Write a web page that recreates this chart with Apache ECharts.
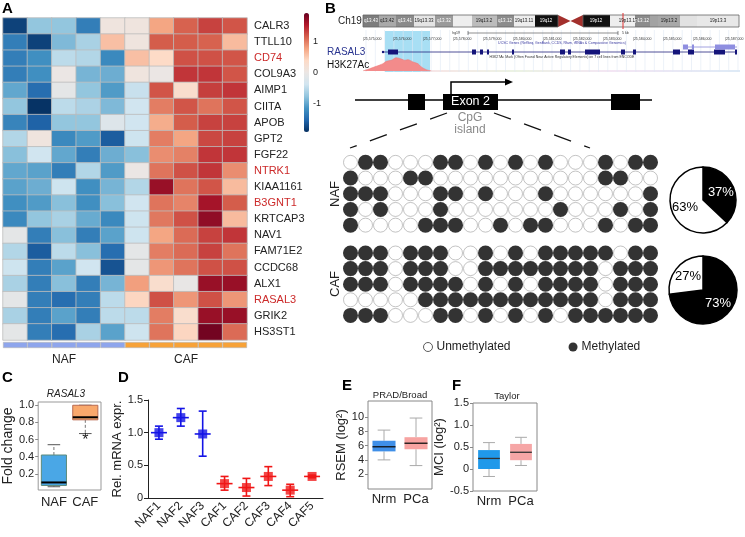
<!DOCTYPE html>
<html><head><meta charset="utf-8">
<script src="https://cdn.jsdelivr.net/npm/echarts@6.0.0/dist/echarts.min.js"></script>
<style>html,body{margin:0;padding:0;background:#fff;}#chart{width:745px;height:537px;}</style>
</head><body><div id="chart"></div>
<script>
// ================= DATA =================
// Panel A
const genes = ['CALR3','TTLL10','CD74','COL9A3','AIMP1','CIITA','APOB','GPT2','FGF22','NTRK1','KIAA1161','B3GNT1','KRTCAP3','NAV1','FAM71E2','CCDC68','ALX1','RASAL3','GRIK2','HS3ST1'];
const redGenes = ['CD74','NTRK1','B3GNT1','RASAL3'];
const samples = ['NAF-1','NAF-2','NAF-3','NAF-4','NAF-5','CAF-1','CAF-2','CAF-3','CAF-4','CAF-5'];
const sampleGroup = ['NAF','NAF','NAF','NAF','NAF','CAF','CAF','CAF','CAF','CAF'];
const groupLabels = ['NAF','CAF'];
const zScores = [
  [-1.79,-0.76,-0.76,-1.33,0.08,0.08,0.76,1.14,1.31,1.21],
  [-1.33,-1.79,-0.86,-0.63,0.58,0.08,1.17,1.17,1.14,0.61],
  [-1.33,-1.19,-0.51,-0.57,-1.24,0.58,0.38,1.23,1.23,1.21],
  [-1.33,-1.19,0.00,-0.90,-0.95,0.08,0.00,1.38,1.38,1.21],
  [-1.00,-1.47,-0.10,-0.76,-1.09,-0.44,1.21,0.30,1.33,1.38],
  [-0.76,-1.90,-0.51,-0.61,-0.86,-0.38,0.99,1.21,1.04,1.21],
  [-1.28,-1.56,-0.76,-0.76,-0.20,-0.38,0.71,1.17,1.31,1.31],
  [-0.57,0.08,-1.24,-1.09,-1.60,-0.40,0.99,0.76,1.28,1.31],
  [-0.81,-0.38,-1.00,-1.33,-0.95,-0.81,0.90,0.97,1.38,1.38],
  [-1.00,-1.04,-1.33,-0.57,-1.09,0.00,1.04,1.23,1.38,0.90],
  [-1.04,-0.95,-0.40,-1.19,-0.90,-0.57,1.67,1.04,1.21,0.61],
  [-1.19,-1.09,-0.81,-1.19,-0.81,-0.38,1.04,0.95,1.60,1.17],
  [-1.24,-0.76,-0.63,-0.97,-1.24,-0.40,1.02,1.23,1.71,0.61],
  [-0.10,-1.33,-0.81,-1.33,-1.04,-0.40,0.76,1.09,1.31,1.38],
  [-0.57,-1.60,-0.51,-0.81,-1.47,-0.10,0.99,1.09,1.31,1.04],
  [-0.40,-1.33,-1.04,-0.38,-1.67,-0.10,0.85,1.04,1.23,1.23],
  [-0.63,-1.33,-0.81,-1.33,-0.90,0.80,0.30,-0.04,1.67,1.67],
  [-0.10,-1.33,-1.47,-1.33,-0.51,0.42,1.23,0.85,1.23,0.85],
  [-0.63,-1.33,-1.04,-1.33,-0.51,-0.51,0.99,0.30,1.67,1.67],
  [-0.10,-1.33,-1.47,-0.63,-1.04,-0.40,1.04,0.42,1.86,1.09]
];
const colorbarTicks = [-1, 0, 1];

// Panel B
const nafMethylation = [
  [0,1,1,0,0,0,1,1,0,1,0,1,0,1,0,0,0,1,0,1,1],
  [1,0,0,0,1,1,0,0,0,0,0,0,0,0,0,0,0,1,1,0,0],
  [1,1,1,0,0,0,1,1,0,1,0,0,0,1,0,0,0,0,0,0,1],
  [1,0,1,0,0,0,1,0,0,0,0,0,0,0,1,0,0,0,1,0,1],
  [1,0,0,0,0,1,1,1,0,0,1,0,1,1,0,0,0,1,0,1,1]
];
const cafMethylation = [
  [1,1,1,0,1,1,1,0,0,1,0,1,0,1,1,1,1,1,0,1,1],
  [1,1,1,0,1,1,1,0,0,1,1,1,1,1,1,1,1,0,1,1,1],
  [1,1,1,0,1,1,1,1,0,1,0,1,0,1,1,1,1,0,1,1,1],
  [0,0,0,0,0,1,1,1,1,1,1,1,1,1,1,1,1,0,1,1,1],
  [1,1,1,0,0,0,1,1,0,1,0,1,0,1,0,1,1,1,1,1,1]
];
const cloneRows = ['1','2','3','4','5'];
const methylationStates = ['Unmethylated','Methylated'];
const nafPie = [37, 63];   // methylated, unmethylated (%)
const cafPie = [73, 27];
const h3k27acPos = [0, 6.7, 13.3, 20, 23.3, 28.3, 33.3, 38.3, 41.7, 45, 50, 55, 58.3, 63.3, 68.3];
const h3k27acSignal = [0, 2.3, 4.7, 7.3, 9.7, 10.7, 13.3, 12, 10.7, 11.3, 9, 7.3, 4, 1.3, 0];

// Panel C
const cGroups = ['NAF','CAF'];
const cBoxStats = [[0.05,0.065,0.10,0.42,0.54],[0.67,0.83,0.86,1.00,1.00]]; // min,q1,median,q3,max
const cOutliers = [[1, 0.62]];
const cTicks = [0.2,0.4,0.6,0.8,1.0];

// Panel D
const dSamples = ['NAF1','NAF2','NAF3','CAF1','CAF2','CAF3','CAF4','CAF5'];
const dMean = [1.00,1.23,0.98,0.22,0.16,0.33,0.12,0.33];
const dLow  = [0.90,1.10,0.64,0.12,0.03,0.19,0.02,0.31];
const dHigh = [1.10,1.37,1.33,0.33,0.30,0.48,0.21,0.35];

// Panel E
const eGroups = ['Nrm','PCa'];
const eBoxStats = [[4.0,5.2,5.85,6.7,8.2],[3.2,5.5,6.35,7.2,9.9]];
const eTicks = [2,4,6,8,10];

// Panel F
const fGroups = ['Nrm','PCa'];
const fBoxStats = [[-0.17,0.00,0.24,0.43,0.60],[0.08,0.20,0.38,0.57,0.72]];

// ================= CHART =================
const FONT = '"Liberation Sans", Arial, Helvetica, sans-serif';
const chart = echarts.init(document.getElementById('chart'), null, {renderer:'canvas', width:745, height:537});

function T(text, x, y, o){
  o = o || {};
  return {type:'text', x:x, y:y, rotation:o.rot||0, z:o.z||10, silent:true,
    style:{text:text, fill:o.fill||'#222', fontSize:o.size||12, fontFamily:FONT, fontWeight:o.weight||'normal', fontStyle:o.style||'normal',
      textAlign:o.align||'left', textVerticalAlign:o.va||'middle', align:o.align||'left', verticalAlign:o.va||'middle'}};
}
function R(x,y,w,h,fill,o){ o=o||{}; return {type:'rect', shape:{x:x,y:y,width:w,height:h}, z:o.z||1, silent:true, style:{fill:fill, stroke:o.stroke||null, lineWidth:o.lw||1}}; }
function L(x1,y1,x2,y2,stroke,o){ o=o||{}; return {type:'line', shape:{x1:x1,y1:y1,x2:x2,y2:y2}, z:o.z||2, silent:true, style:{stroke:stroke, lineWidth:o.lw||1, lineDash:o.dash||null}}; }

// ---- graphic (illustrations / labels) ----
const G = [];
[['A',2,9],['B',325,9],['C',2,378],['D',118,378],['E',342,386],['F',452,386]].forEach(p=>G.push(T(p[0],p[1],p[2],{size:15,weight:'bold',fill:'#000'})));

// Chromosome 19 ideogram
G.push(T('Ch19',338,21,{size:10}));
const bands = [[363,379,'#7d7d7d'],[379,396,'#a9a9a9'],[396,414,'#8a8a8a'],[414,435,'#e4e4e4'],[435,453,'#9a9a9a'],[453,472,'#eeeeee'],[472,497,'#bcbcbc'],[497,514,'#8c8c8c'],[514,535,'#ededed'],[535,558,'#111111'],[583,610,'#111111'],[610,622,'#eeeeee'],[622,635,'#f0f0f0'],[635,650,'#8c8c8c'],[650,658,'#a3a3a3'],[658,680,'#a8a8a8'],[680,697,'#e2e2e2'],[697,739,'#e8e8e8']];
bands.forEach(b=>G.push(R(b[0],15,b[1]-b[0],12,b[2])));
G.push({type:'polygon', silent:true, z:2, shape:{points:[[558,15],[558,27],[570.5,21]]}, style:{fill:'#a3302c'}});
G.push({type:'polygon', silent:true, z:2, shape:{points:[[583,15],[583,27],[570.5,21]]}, style:{fill:'#a3302c'}});
G.push(R(363,15,195,12,'none',{stroke:'#666',lw:0.8,z:3}));
G.push(R(583,15,156,12,'none',{stroke:'#666',lw:0.8,z:3}));
G.push(L(623,13,623,29,'#e03030',{lw:1,z:4}));
[['q13.43',371,'#fff'],['q13.42',387,'#222'],['q13.41',405,'#fff'],['19q13.33',424,'#222'],['q13.32',444,'#fff'],['19q13.2',484,'#222'],['q13.12',505,'#fff'],['19q13.11',524,'#222'],['19q12',546,'#fff'],['19p12',596,'#fff'],['19p13.11',628,'#222'],['p13.12',642,'#fff'],['19p13.2',669,'#222'],['19p13.3',718,'#222']].forEach(t=>G.push(T(t[0],t[1],21,{size:4.5,fill:t[2],align:'center',z:5})));

// genome browser
G.push(R(385,31,45,41,'#a8dff4',{z:0}));
for(let x=366;x<740;x+=9.3) G.push(L(x,30,x,72,'#dfe8f4',{lw:0.6,z:0}));
G.push(L(468,33,618,33,'#444',{lw:0.6}));
G.push(L(468,31,468,35,'#444',{lw:0.6}));
G.push(L(618,31,618,35,'#444',{lw:0.6}));
G.push(T('hg19',460,33,{size:3.5,fill:'#333',align:'right'}));
G.push(T('5 kb',622,33,{size:3.5,fill:'#333'}));
[363,393,423,453,483,513,543,573,603,633,663,693,725].forEach((x,i)=>G.push(T('|25,5'+(75+i)+',000',x,39,{size:3.5,fill:'#333'})));
G.push(T('UCSC Genes (RefSeq, GenBank, CCDS, Rfam, tRNAs & Comparative Genomics)',562,43,{size:3.5,fill:'#3a3aa0',align:'center'}));
G.push(T('H3K27Ac Mark (Often Found Near Active Regulatory Elements) on 7 cell lines from ENCODE',562,57,{size:3.5,fill:'#333',align:'center'}));
G.push(T('RASAL3',327,52,{size:10,fill:'#2a3590'}));
G.push(T('H3K27Ac',327,65,{size:10,fill:'#111'}));
G.push(L(383,52,737,52,'#23237f',{lw:0.8}));
G.push({type:'circle', silent:true, z:3, shape:{cx:383,cy:52,r:1.2}, style:{fill:'#14147a'}});
[[388,398],[472,476],[480,483],[487,489],[512,514],[560,565],[568,571],[585,600],[621,625],[633,636],[673,680],[688,694],[714,725],[735,737]].forEach(e=>G.push(R(e[0],49.5,e[1]-e[0],5,'#14147a',{z:3})));
G.push(L(683,47,737,47,'#8a8ad8',{lw:0.8}));
[[683,688],[692,694],[715,735]].forEach(e=>G.push(R(e[0],44.5,e[1]-e[0],5,'#8e8ee0',{z:3})));
G.push({type:'line', silent:true, z:1, shape:{x1:420,y1:71,x2:740,y2:71}, style:{lineWidth:1.2, stroke:new echarts.graphic.LinearGradient(0,0,1,0,[{offset:0,color:'#f3c9d0'},{offset:0.3,color:'#d8e6c8'},{offset:0.6,color:'#e8cce8'},{offset:1,color:'#bcd6ee'}])}});

// gene schematic
G.push(L(355,100,652,100,'#000',{lw:1.5}));
G.push(R(408,94,17,16,'#000',{z:3}));
G.push(R(443,94,55,16,'#000',{z:3}));
G.push(R(611,94,29,16,'#000',{z:3}));
G.push(T('Exon 2',470.5,102,{size:12.5,fill:'#fff',align:'center',z:5}));
G.push({type:'polyline', silent:true, z:3, shape:{points:[[451,94],[451,82],[506,82]]}, style:{stroke:'#000',lineWidth:1.5,fill:null}});
G.push({type:'polygon', silent:true, z:3, shape:{points:[[505,78.5],[513,82],[505,85.5]]}, style:{fill:'#000'}});
G.push(T('CpG',470,118,{size:12,fill:'#8a8a8a',align:'center'}));
G.push(T('island',470,130,{size:12,fill:'#8a8a8a',align:'center'}));
G.push(L(447,113,350,148,'#111',{lw:1.3,dash:[18,14]}));
G.push(L(494,113,590,148,'#111',{lw:1.3,dash:[18,14]}));
G.push(T('NAF',335,194,{size:13,rot:Math.PI/2,align:'center'}));
G.push(T('CAF',335,284,{size:13,rot:Math.PI/2,align:'center'}));

// small titles
G.push(T('RASAL3',66,394,{size:10,style:'italic',align:'center'}));
G.push(T('PRAD/Broad',400,395,{size:9.5,align:'center'}));
G.push(T('Taylor',507,396,{size:9.5,align:'center'}));

// ---- renderers ----
function makeBox(cfg){
  return function(params, api){
    const i = api.value(0);
    const v = [1,2,3,4,5].map(k=>api.value(k));
    const cx = api.coord([i, v[2]])[0];
    const y = v.map(val=>api.coord([i,val])[1]);
    const band = api.size([1,0])[0];
    const bw = band*cfg.boxRatio, cw = bw*cfg.capRatio;
    const ws = {stroke:cfg.whisker, lineWidth:1, lineDash:cfg.dash||null};
    const cs = {stroke:cfg.cap||cfg.whisker, lineWidth:1};
    const ch = [
      {type:'line', shape:{x1:cx,y1:y[3],x2:cx,y2:y[4]}, style:ws},
      {type:'line', shape:{x1:cx,y1:y[1],x2:cx,y2:y[0]}, style:ws},
      {type:'line', shape:{x1:cx-cw/2,y1:y[4],x2:cx+cw/2,y2:y[4]}, style:cs},
      {type:'line', shape:{x1:cx-cw/2,y1:y[0],x2:cx+cw/2,y2:y[0]}, style:cs},
      {type:'rect', shape:{x:cx-bw/2,y:y[3],width:bw,height:y[1]-y[3]}, style:{fill:cfg.fill[params.dataIndex], stroke:cfg.stroke?cfg.stroke[params.dataIndex]:null, lineWidth:1}},
      {type:'line', shape:{x1:cx-bw/2,y1:y[2],x2:cx+bw/2,y2:y[2]}, style:{stroke:cfg.median,lineWidth:cfg.medianW}}
    ];
    return {type:'group', children:ch};
  };
}
const dColor = dSamples.map(s=>s.indexOf('NAF')===0?'#1414e6':'#f01616');
function errRender(params, api){
  const i = api.value(0);
  const lo = api.coord([i,api.value(1)]), hi = api.coord([i,api.value(2)]), m = api.coord([i,api.value(3)]);
  const c = dColor[params.dataIndex];
  const st = {stroke:c, lineWidth:1.6};
  return {type:'group', children:[
    {type:'line', shape:{x1:lo[0],y1:lo[1],x2:hi[0],y2:hi[1]}, style:st},
    {type:'line', shape:{x1:lo[0]-4,y1:lo[1],x2:lo[0]+4,y2:lo[1]}, style:st},
    {type:'line', shape:{x1:hi[0]-4,y1:hi[1],x2:hi[0]+4,y2:hi[1]}, style:st},
    {type:'line', shape:{x1:m[0]-8,y1:m[1],x2:m[0]+8,y2:m[1]}, style:st}
  ]};
}
function methPoints(m, val){ const out=[]; m.forEach((row,r)=>row.forEach((v,c)=>{ if(v===val) out.push([c, r]); })); return out; }
const fmt1 = v => v===0 ? '0' : v.toFixed(1);

const heatData = [];
zScores.forEach((row,r)=>row.forEach((v,c)=>heatData.push([c,r,v])));

const axisText = {fontFamily:FONT, color:'#222'};
const hiddenCat = (g,data,extra)=>Object.assign({type:'category', gridIndex:g, data:data, show:false}, extra||{});
const hiddenVal = (g,min,max)=>({type:'value', gridIndex:g, min:min, max:max, show:false});

const option = {
  animation:false,
  backgroundColor:'#fff',
  textStyle:{fontFamily:FONT},
  graphic:G,
  grid:[
    {left:3, top:18, width:244, height:322},
    {left:3, top:342, width:244, height:6},
    {left:310, top:13, width:1, height:119},
    {left:343, top:154.5, width:315, height:78.5},
    {left:343, top:245.2, width:315, height:78},
    {left:363, top:55, width:377, height:16},
    {left:35, top:402, width:66, height:88, show:true, borderColor:'#999', borderWidth:1},
    {left:148, top:400, width:175, height:98},
    {left:368, top:401, width:64, height:88, show:true, borderColor:'#888', borderWidth:1},
    {left:473, top:403, width:64, height:88, show:true, borderColor:'#888', borderWidth:1}
  ],
  xAxis:[
    hiddenCat(0,samples),
    hiddenCat(1,samples),
    {type:'category', gridIndex:1, data:groupLabels, position:'bottom', axisLine:{show:false}, axisTick:{show:false}, axisLabel:Object.assign({fontSize:12, margin:6, interval:0}, axisText)},
    hiddenVal(2,0,1),
    hiddenVal(3,-0.5,20.5),
    hiddenVal(4,-0.5,20.5),
    hiddenVal(5,0,377),
    {type:'category', gridIndex:6, data:cGroups, axisLine:{show:false}, axisTick:{show:false}, axisLabel:Object.assign({fontSize:13, margin:6, interval:0, hideOverlap:false}, axisText)},
    {type:'category', gridIndex:7, data:dSamples, axisLine:{lineStyle:{color:'#222'}}, axisTick:{alignWithLabel:true, length:4, lineStyle:{color:'#222'}}, axisLabel:Object.assign({fontSize:12, rotate:45, margin:6, interval:0}, axisText)},
    {type:'category', gridIndex:8, data:eGroups, axisLine:{show:false}, axisTick:{show:false}, axisLabel:Object.assign({fontSize:13, margin:4, interval:0, hideOverlap:false}, axisText)},
    {type:'category', gridIndex:9, data:fGroups, axisLine:{show:false}, axisTick:{show:false}, axisLabel:Object.assign({fontSize:13, margin:4, interval:0, hideOverlap:false}, axisText)}
  ],
  yAxis:[
    {type:'category', gridIndex:0, data:genes, inverse:true, position:'right', axisLine:{show:false}, axisTick:{show:false},
      axisLabel:{fontSize:11, margin:7, interval:0, fontFamily:FONT, color:(v)=>redGenes.indexOf(v)>=0?'#cc2a2a':'#222'}},
    hiddenVal(1,0,1),
    {type:'value', gridIndex:2, min:-1.92, max:1.92, position:'right', axisLine:{show:false}, axisTick:{show:false}, splitLine:{show:false},
      axisLabel:Object.assign({fontSize:9, margin:2, customValues:colorbarTicks}, axisText)},
    hiddenCat(3,cloneRows,{inverse:true}),
    hiddenCat(4,cloneRows,{inverse:true}),
    hiddenVal(5,0,16),
    {type:'value', gridIndex:6, min:0.012, max:1.038, axisLine:{show:false}, splitLine:{show:false},
      axisTick:{show:true, length:3, customValues:cTicks, lineStyle:{color:'#888'}},
      axisLabel:Object.assign({fontSize:11, margin:4, customValues:cTicks, formatter:fmt1}, axisText),
      name:'Fold change', nameLocation:'middle', nameGap:19, nameRotate:90, nameTextStyle:{fontSize:14, fontFamily:FONT, color:'#222'}},
    {type:'value', gridIndex:7, min:0, max:1.5, interval:0.5, axisLine:{show:true, lineStyle:{color:'#222'}}, splitLine:{show:false},
      axisTick:{show:true, length:4, lineStyle:{color:'#222'}},
      axisLabel:Object.assign({fontSize:11, margin:5, formatter:fmt1}, axisText),
      name:'Rel. mRNA expr.', nameLocation:'middle', nameGap:20, nameRotate:90, nameTextStyle:{fontSize:13, fontFamily:FONT, color:'#222'}},
    {type:'value', gridIndex:8, min:-0.1, max:12.3, axisLine:{show:false}, splitLine:{show:false},
      axisTick:{show:true, length:3, customValues:eTicks, lineStyle:{color:'#888'}},
      axisLabel:Object.assign({fontSize:11, margin:4, customValues:eTicks}, axisText),
      name:'RSEM (log²)', nameLocation:'middle', nameGap:14, nameRotate:90, nameTextStyle:{fontSize:13, fontFamily:FONT, color:'#222'}},
    {type:'value', gridIndex:9, min:-0.5, max:1.5, interval:0.5, axisLine:{show:false}, splitLine:{show:false},
      axisTick:{show:true, length:3, lineStyle:{color:'#888'}},
      axisLabel:Object.assign({fontSize:11, margin:4, formatter:fmt1}, axisText),
      name:'MCI (log²)', nameLocation:'middle', nameGap:12, nameRotate:90, nameTextStyle:{fontSize:13, fontFamily:FONT, color:'#222'}}
  ],
  visualMap:[{type:'continuous', seriesIndex:0, min:-1.92, max:1.92, left:304, top:13, itemWidth:5, itemHeight:119, padding:0,
    calculable:false, realtime:false, hoverLink:false,
    inRange:{color:['#053061','#2166ac','#4393c3','#92c5de','#d1e5f0','#ebe6e4','#fddbc7','#f4a582','#d6604d','#b2182b','#67001f']}}],
  legend:{data:[{name:'Unmethylated', itemStyle:{color:'#fff', borderColor:'#333', borderWidth:1}},{name:'Methylated', itemStyle:{color:'#000'}}],
    left:423, top:341, icon:'circle', itemWidth:9, itemHeight:9, itemGap:58, padding:0, selectedMode:false,
    textStyle:{fontSize:12, color:'#222', fontFamily:FONT, padding:[0,0,0,-1]}},
  series:[
    {type:'heatmap', xAxisIndex:0, yAxisIndex:0, data:heatData, itemStyle:{borderColor:'#bdbdbd', borderWidth:0.8}, silent:true},
    {type:'bar', xAxisIndex:1, yAxisIndex:1, barCategoryGap:0, barWidth:'100%', silent:true,
      data:sampleGroup.map(g=>({value:1, itemStyle:{color:g==='NAF'?'#8ea5ec':'#f7a238', borderColor:'#b5b5b5', borderWidth:0.6}}))},
    {type:'scatter', name:'Unmethylated', xAxisIndex:4, yAxisIndex:3, data:methPoints(nafMethylation,0), symbol:'circle', symbolSize:14, itemStyle:{color:'#fff', borderColor:'#a0a0a0', borderWidth:0.8}, silent:true},
    {type:'scatter', name:'Methylated', xAxisIndex:4, yAxisIndex:3, data:methPoints(nafMethylation,1), symbol:'circle', symbolSize:15, itemStyle:{color:'#000'}, silent:true},
    {type:'scatter', name:'Unmethylated', xAxisIndex:5, yAxisIndex:4, data:methPoints(cafMethylation,0), symbol:'circle', symbolSize:14, itemStyle:{color:'#fff', borderColor:'#a0a0a0', borderWidth:0.8}, silent:true},
    {type:'scatter', name:'Methylated', xAxisIndex:5, yAxisIndex:4, data:methPoints(cafMethylation,1), symbol:'circle', symbolSize:15, itemStyle:{color:'#000'}, silent:true},
    {type:'pie', center:[703,200], radius:33, startAngle:90, clockwise:true, silent:true, itemStyle:{borderColor:'#000', borderWidth:1.5},
      label:{position:'inside', fontSize:13, fontFamily:FONT, formatter:'{c}%'}, labelLine:{show:false},
      data:[{value:nafPie[0], name:'NAF methylated', itemStyle:{color:'#000'}, label:{color:'#fff'}},{value:nafPie[1], name:'NAF unmethylated', itemStyle:{color:'#fff'}, label:{color:'#000'}}]},
    {type:'pie', center:[703,290], radius:34, startAngle:90, clockwise:true, silent:true, itemStyle:{borderColor:'#000', borderWidth:1.5},
      label:{position:'inside', fontSize:13, fontFamily:FONT, formatter:'{c}%'}, labelLine:{show:false},
      data:[{value:cafPie[0], name:'CAF methylated', itemStyle:{color:'#000'}, label:{color:'#fff'}},{value:cafPie[1], name:'CAF unmethylated', itemStyle:{color:'#fff'}, label:{color:'#000'}}]},
    {type:'line', xAxisIndex:6, yAxisIndex:5, data:h3k27acPos.map((p,i)=>[p,h3k27acSignal[i]]), smooth:0.3, symbol:'none', silent:true,
      lineStyle:{color:'#f07a7a', width:0.6}, areaStyle:{color:'#f38b8b', opacity:1}},
    {type:'custom', xAxisIndex:7, yAxisIndex:6, data:cBoxStats.map((s,i)=>[i].concat(s)), encode:{x:0,y:[1,2,3,4,5]}, silent:true,
      renderItem:makeBox({boxRatio:0.8, capRatio:0.5, whisker:'#777', cap:'#555', dash:[3,2], fill:['#4aa7e6','#f9a86c'], stroke:['#5d8a7a','#b86a52'], median:'#000', medianW:2})},
    {type:'custom', xAxisIndex:7, yAxisIndex:6, data:cOutliers, silent:true,
      renderItem:(p,api)=>{const c=api.coord([api.value(0),api.value(1)]); return {type:'text', x:c[0], y:c[1]+3, style:{text:'*', fontSize:16, fontFamily:FONT, fill:'#222', align:'center', verticalAlign:'middle', textAlign:'center', textVerticalAlign:'middle'}};}},
    {type:'custom', xAxisIndex:8, yAxisIndex:7, data:dSamples.map((s,i)=>[i,dLow[i],dHigh[i],dMean[i]]), encode:{x:0,y:[1,2]}, silent:true, renderItem:errRender},
    {type:'scatter', xAxisIndex:8, yAxisIndex:7, symbol:'rect', symbolSize:9, silent:true,
      data:dMean.map((v,i)=>({value:[i,v], itemStyle:{color:dColor[i]}}))},
    {type:'custom', xAxisIndex:9, yAxisIndex:8, data:eBoxStats.map((s,i)=>[i].concat(s)), encode:{x:0,y:[1,2,3,4,5]}, silent:true,
      renderItem:makeBox({boxRatio:0.72, capRatio:0.55, whisker:'#aaa', fill:['#3f8fe8','#f7a3a1'], median:'#111', medianW:1.3})},
    {type:'custom', xAxisIndex:10, yAxisIndex:9, data:fBoxStats.map((s,i)=>[i].concat(s)), encode:{x:0,y:[1,2,3,4,5]}, silent:true,
      renderItem:makeBox({boxRatio:0.68, capRatio:0.55, whisker:'#aaa', fill:['#2099ea','#f6a6a6'], median:'#333', medianW:1.3})}
  ]
};
chart.setOption(option);
</script></body></html>
